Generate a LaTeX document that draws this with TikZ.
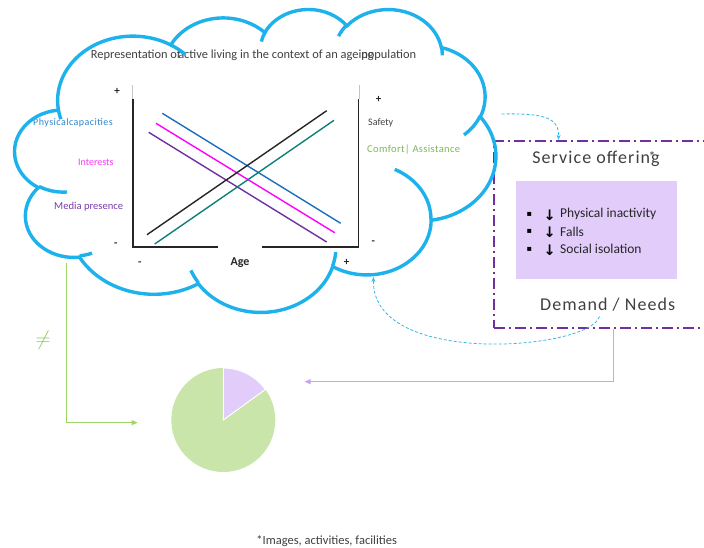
\documentclass[tikz,border=0pt]{standalone}
\usepackage{fontspec}
\setmainfont{Carlito}
\newfontfamily\symfam{DejaVu Sans}
\usetikzlibrary{arrows.meta,calc}

\definecolor{cloudblue}{HTML}{1EB2EC}
\definecolor{axisgray}{HTML}{262626}
\definecolor{txtgray}{HTML}{404040}
\definecolor{lnblue}{HTML}{1A6FBE}
\definecolor{lnmag}{HTML}{FF00FF}
\definecolor{lnpurple}{HTML}{7030A0}
\definecolor{lnteal}{HTML}{0F7F7A}
\definecolor{lblblue}{HTML}{2F85D0}
\definecolor{lblmag}{HTML}{F23CF0}
\definecolor{lblpurple}{HTML}{7A3BB0}
\definecolor{lblgreen}{HTML}{7DB955}
\definecolor{boxpurple}{HTML}{7030A0}
\definecolor{lavender}{HTML}{E2CCFA}
\definecolor{piegreen}{HTML}{C9E5A9}
\definecolor{dashblue}{HTML}{35B8EA}
\definecolor{linkpurple}{HTML}{C9A2F2}
\definecolor{linkgreen}{HTML}{9ED66A}
\definecolor{neqgreen}{HTML}{8CCB4E}

% One elliptical arc of the cloud outline: radii (in thousands of units),
% start angle and sweep given as ray angles; stored as a ready "arc[...]" path piece.
\newcommand\cldprep[5]{%
  \pgfmathsetmacro\cldA{atan2(#2*sin(#4),#3*cos(#4))}%
  \pgfmathsetmacro\cldB{atan2(#2*sin(#4+#5),#3*cos(#4+#5))}%
  \pgfmathsetmacro\cldD{\cldB-\cldA}%
  \pgfmathsetmacro\cldD{\cldD+360*(#5>0)*(\cldD<0)-360*(#5<0)*(\cldD>0)}%
  \expandafter\xdef\csname cld#1\endcsname{arc[start angle=\cldA,delta angle=\cldD,x radius=#2,y radius=#3]}%
}

\begin{document}
\begin{tikzpicture}[x=1pt,y=-1pt,
  cloudline/.style={draw=cloudblue, line width=3.4pt},
  axisline/.style={draw=axisgray, line width=1.6pt},
  chartline/.style={line width=1.4pt},
  sign/.style={inner sep=0pt, text=axisgray, font=\bfseries\fontsize{11}{12}\selectfont},
  lbl/.style={inner sep=0pt, anchor=west, font=\fontsize{10}{12}\selectfont},
  bigtxt/.style={inner sep=0pt, text=txtgray, font=\fontsize{18}{20}\selectfont\addfontfeatures{LetterSpace=6}},
  svcbox/.style={draw=boxpurple, line width=1.8pt, dash pattern=on 11pt off 4pt on 2pt off 4pt,
    minimum width=226pt, minimum height=187.6pt, inner sep=0pt},
  needbox/.style={fill=lavender, minimum width=161pt, minimum height=98.3pt, inner sep=0pt},
  bul/.style={inner sep=0pt, font=\symfam\fontsize{8}{10}\selectfont},
  dwn/.style={inner sep=0pt, font=\symfam\bfseries\fontsize{14.5}{15}\selectfont},
  item/.style={inner sep=0pt, anchor=west, text=axisgray, font=\fontsize{13.5}{15}\selectfont},
  dashlink/.style={draw=dashblue, line width=0.8pt, dash pattern=on 3pt off 2pt,
    -{Stealth[length=5pt,width=4pt]}},
  solidlink/.style={line width=0.9pt, -{Triangle[length=6pt,width=5pt]}}
]
\clip (0,0) rectangle (704,548);
\fill[white] (0,0) rectangle (704,548);

% ---- chart axes and trend lines ----
\draw[gray!45, line width=0.5pt] (131.8,85) -- (131.8,99.3);
\draw[gray!45, line width=0.5pt] (359.3,85) -- (359.3,99.3);
\draw[axisline, line join=miter] (132.7,99.3) -- (132.7,246.7) -- (358.5,246.7) -- (358.5,99.3);

\draw[chartline, lnblue]   (162.3,113.3) -- (340.7,223.3);
\draw[chartline, lnmag]    (156,123.3)   -- (334.7,232.7);
\draw[chartline, lnpurple] (148.7,132.3) -- (326.7,242);
\draw[chartline, axisgray] (147,234.7)   -- (326.7,110.7);
\draw[chartline, lnteal]   (154.7,244)   -- (334,120.3);

\node[fill=white, inner sep=0pt, minimum width=44pt, minimum height=33pt,
  text=axisgray, font=\bfseries\fontsize{12}{14}\selectfont] (age) at (240,262.5) {Age};

\node[sign] (yplus)  at (117,91.7)    {+};
\node[sign] (yminus) at (115.7,244.3) {-};
\node[sign] (xminus) at (139.7,263.3) {-};
\node[sign] (xplus)  at (346.7,262.7) {+};
\node[sign] (rplus)  at (378.7,99.3)  {+};
\node[sign] (rminus) at (373.3,242.7) {-};

\node[lbl, text=lblblue, font=\fontsize{10}{12}\selectfont\addfontfeatures{LetterSpace=4.7}] (phys) at (33,123.3) {Physicalcapacities};
\node[lbl, text=lblmag]    (intr)  at (78,162.3)  {Interests};
\node[lbl, text=lblpurple, font=\fontsize{10.6}{12}\selectfont] (media) at (54,206.7) {Media presence};
\node[lbl, text=txtgray]   (safe)  at (368,123.3) {Safety};
\node[lbl, text=lblgreen, font=\fontsize{10.5}{12}\selectfont\addfontfeatures{LetterSpace=3.5}] (comf) at (367,150) {Comfort| Assistance};

\node[inner sep=0pt, anchor=west, text=txtgray, font=\fontsize{12.4}{14}\selectfont] (title) at (90.7,55)
  {Representation o\rlap{f}\kern1.3pt{}active living in the context of an agei\rlap{ng}population};

% ---- service offering panel ----
\node[svcbox] (svc) at (607,234.5) {};
\node[needbox] (needs) at (596.5,230.15) {};
\node[bigtxt] (offer) at (596,159.3) {Service offering};
\node[inner sep=0pt, text=txtgray, font=\fontsize{14}{14}\selectfont] (star) at (652,157) {*};
\node[bigtxt] (demand) at (607.7,304.7) {Demand / Needs};
\foreach \yy/\txt [count=\n] in {214.3/Physical inactivity, 231.7/Falls, 249/Social isolation} {
  \node[bul]  (bul\n)  at (529.3,\yy) {▪};
  \node[dwn]  (dwn\n)  at (549.7,\yy+0.8) {↓};
  \node[item] (item\n) at (560,\yy) {\txt};
}

% ---- pie ----
\coordinate (pie) at (223.3,420);
\fill[piegreen] (pie) circle[radius=52];
\filldraw[fill=lavender, draw=white, line width=1pt] (pie) -- ++(-90:52) arc[start angle=-90, end angle=-36, radius=52] -- cycle;

% ---- links ----
\coordinate (cloudout) at (501.5,114);
\coordinate (svcin) at ($(svc.north west)+(65.3,0)$);
\draw[dashlink] (cloudout) .. controls (545,113) and (559.3,118) .. (svcin);

\coordinate (dmdout) at (599.5,316.5);
\coordinate (cloudin) at (373.5,277);
\draw[dashlink] (dmdout) .. controls (590,350) and (371,368) .. (cloudin);

\coordinate (svcout) at ($(svc.south west)+(120.6,0)$);
\coordinate (pieright) at (304.6,381.7);
\draw[solidlink, draw=linkpurple] (svcout) |- (pieright);

\coordinate (greenstart) at (66,263);
\coordinate (pieleft) at (137.6,422.7);
\draw[solidlink, draw=linkgreen] (greenstart) |- (pieleft);
\node[inner sep=0pt, text=neqgreen, font=\fontsize{20}{20}\selectfont] (neq) at (43,340) {$\neq$};

\node[inner sep=0pt, text=txtgray, font=\fontsize{12.5}{14}\selectfont] (foot) at (326.7,540.7) {*Images, activities, facilities};

% ---- cloud outline ----
\cldprep{a}{6.753}{9.19}{-190.4875}{123.7805}
\cldprep{b}{5.333}{7.267}{-144.1024}{89.9452}
\cldprep{c}{4.365}{5.945}{-145.8079}{99.7230}
\cldprep{d}{4.857}{6.595}{-130.9861}{117.2417}
\cldprep{e}{5.333}{7.273}{-78.7089}{109.0269}
\cldprep{f}{6.775}{9.22}{-46.2673}{130.2690}
\cldprep{g}{5.785}{7.867}{0.6250}{114.0333}
\cldprep{h}{6.752}{9.215}{22.4516}{115.1726}
\cldprep{i}{7.72}{10.543}{66.2426}{75.7110}
\cldprep{j}{4.36}{5.918}{-274.9421}{146.7356}
\cldprep{k}{4.345}{5.945}{-246.8285}{152.5189}
\cldprep{ia}{4.345}{5.945}{86.742}{26.4295}
\cldprep{ib}{4.36}{5.918}{73.6105}{11.4475}
\cldprep{ic}{6.752}{9.215}{137.6242}{14.0811}
\cldprep{id}{6.752}{9.215}{6.4533}{15.9984}
\cldprep{ie}{5.785}{7.867}{-70.2924}{70.9174}
\cldprep{if}{5.333}{7.273}{30.318}{27.7515}
\cldprep{ig}{4.857}{6.595}{-13.7443}{14.8589}
\cldprep{ih}{4.857}{6.595}{-149.1815}{18.1954}
\cldprep{ii}{4.365}{5.945}{-163.4943}{17.6864}
\cldprep{ij}{6.753}{9.19}{-66.707}{12.3194}
\cldprep{ik}{6.753}{9.19}{157.6544}{11.8582}
\begin{scope}[shift={(14.9pt,-8.5pt)}, x=11.13pt, y=-7.01pt]
  \draw[cloudline] (3.9,14.37) \clda \cldb \cldc \cldd \clde \cldf \cldg \cldh \cldi \cldj \cldk -- cycle;
  \draw[cloudline] (4.693,26.177) \cldia (6.928,34.899) \cldib (16.478,39.09) \cldic
    (28.827,34.751) \cldid (34.129,22.954) \cldie (41.798,15.354) \cldif
    (38.324,5.426) \cldig (29.078,3.952) \cldih (22.141,4.72) \cldii
    (14,5.192) \cldij (4.127,15.789) \cldik;
\end{scope}
\end{tikzpicture}
\end{document}
